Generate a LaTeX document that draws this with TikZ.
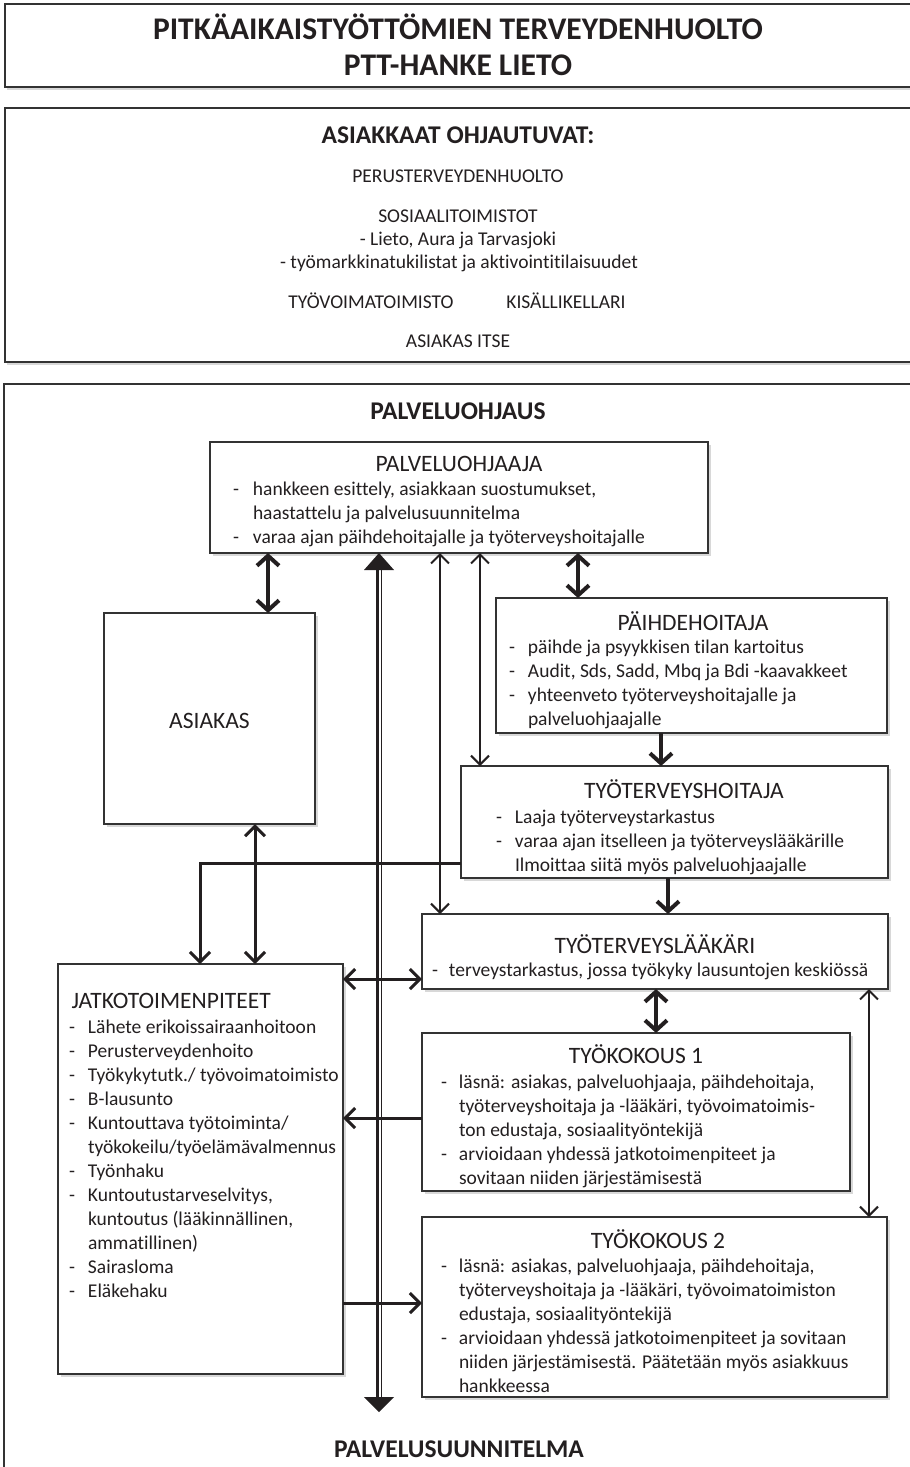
\documentclass[tikz,border=0pt]{standalone}
\usepackage{fontspec}
\setmainfont{Carlito}[Ligatures={CommonOff,ContextualOff}]
\usetikzlibrary{arrows.meta,shadows}
\definecolor{ink}{HTML}{231F20}
\definecolor{edge}{HTML}{333333}
\newcommand\dl[2]{\strut\makebox[#1pt][l]{-}#2}
\newcommand\cl[2]{\strut\hspace*{#1pt}#2}
\begin{document}
\begin{tikzpicture}[x=1pt,y=-1pt,
  every node/.style={text=ink},
  frame/.style={draw=edge, line width=1.5pt, fill=white, inner sep=0pt, outer sep=0pt, anchor=north west,
    drop shadow={shadow xshift=2pt, shadow yshift=-3pt, opacity=0.3}},
  box/.style={draw=edge, line width=1.3pt, fill=white, inner sep=0pt, outer sep=0pt, anchor=north west,
    drop shadow={shadow xshift=2.5pt, shadow yshift=-2.5pt, opacity=0.3}},
  bigtitle/.style={font=\fontsize{31.5}{36}\selectfont\bfseries, anchor=base},
  head/.style={font=\fontsize{25.5}{30}\selectfont\bfseries, anchor=base},
  plain/.style={font=\fontsize{19.5}{24}\selectfont, anchor=base},
  btitle/.style={font=\fontsize{23.5}{28}\selectfont, anchor=base},
  lst/.style={font=\fontsize{19.5}{24}\selectfont, align=left, anchor=north west, inner sep=0pt, outer sep=0pt},
  thk/.style={draw=ink, line width=4pt, >={Straight Barb[length=10pt,width=22pt]}},
  med/.style={draw=ink, line width=3pt, >={Straight Barb[length=10pt,width=20pt]}},
  thn/.style={draw=ink, line width=2pt, >={Straight Barb[length=9pt,width=18pt]}},
]
\useasboundingbox (0,0) rectangle (910,1467);
\fill[white] (0,0) rectangle (910,1467);

% frames
\node[frame, minimum width=907pt, minimum height=83pt] (f1) at (5,4) {};
\node[frame, minimum width=907pt, minimum height=254pt] (f2) at (5,108) {};
\node[frame, minimum width=908pt, minimum height=1100pt] (f3) at (4,384) {};

% header texts
\node[bigtitle] (t1) at (458,39) {PITKÄAIKAISTYÖTTÖMIEN TERVEYDENHUOLTO};
\node[bigtitle] (t2) at (458,75) {PTT-HANKE LIETO};

\node[head] (h1) at (458,143) {ASIAKKAAT OHJAUTUVAT:};
\node[plain] (s1) at (458,182) {PERUSTERVEYDENHUOLTO};
\node[plain] (s2) at (458,222) {SOSIAALITOIMISTOT};
\node[plain] (s3) at (458,245) {- Lieto, Aura ja Tarvasjoki};
\node[plain] (s4) at (459,268) {- työmarkkinatukilistat ja aktivointitilaisuudet};
\node[plain] (s5) at (371,308) {TYÖVOIMATOIMISTO};
\node[plain] (s6) at (566,308) {KISÄLLIKELLARI};
\node[plain] (s7) at (458,347) {ASIAKAS ITSE};

\node[head] (h2) at (458,419) {PALVELUOHJAUS};
\node[head] (h3) at (459,1457) {PALVELUSUUNNITELMA};

% boxes
\node[box, minimum width=498pt, minimum height=111pt] (palv) at (210,442) {};
\node[box, minimum width=211pt, minimum height=211pt] (asiakas) at (104,613) {};
\node[box, minimum width=391pt, minimum height=135pt] (paihde) at (496,598) {};
\node[box, minimum width=427pt, minimum height=112pt] (tth) at (461,766) {};
\node[box, minimum width=466pt, minimum height=75pt] (laak) at (422,914) {};
\node[box, minimum width=285pt, minimum height=410pt] (jatko) at (58,964) {};
\node[box, minimum width=428pt, minimum height=158pt] (tk1) at (422,1033) {};
\node[box, minimum width=465pt, minimum height=180pt] (tk2) at (422,1217) {};

% box texts
\node[btitle] (palvT) at (459,471) {PALVELUOHJAAJA};
\node[lst] (palvL) at (233,478.2) {\dl{20}{hankkeen esittely, asiakkaan suostumukset,}\\
\cl{20}{haastattelu ja palvelusuunnitelma}\\
\dl{20}{varaa ajan päihdehoitajalle ja työterveyshoitajalle}};

\node[btitle] (asiakasT) at (209.5,728) {ASIAKAS};

\node[btitle] (paihdeT) at (693,630) {PÄIHDEHOITAJA};
\node[lst] (paihdeL) at (509,636.2) {\dl{19}{päihde ja psyykkisen tilan kartoitus}\\
\dl{19}{Audit, Sds, Sadd, Mbq ja Bdi -kaavakkeet}\\
\dl{19}{yhteenveto työterveyshoitajalle ja}\\
\cl{19}{palveluohjaajalle}};

\node[btitle] (tthT) at (684,798) {TYÖTERVEYSHOITAJA};
\node[lst] (tthL) at (496,806.2) {\dl{19}{Laaja työterveystarkastus}\\
\dl{19}{varaa ajan itselleen ja työterveyslääkärille}\\
\cl{19}{Ilmoittaa siitä myös palveluohjaajalle}};

\node[btitle] (laakT) at (655,953) {TYÖTERVEYSLÄÄKÄRI};
\node[lst] (laakL) at (432,959.2) {\dl{17}{terveystarkastus, jossa työkyky lausuntojen keskiössä}};

\node[btitle, anchor=base west] (jatkoT) at (68,1008) {JATKOTOIMENPITEET};
\node[lst] (jatkoL) at (69,1016.2) {\dl{19}{Lähete erikoissairaanhoitoon}\\
\dl{19}{Perusterveydenhoito}\\
\dl{19}{Työkykytutk./ työvoimatoimisto}\\
\dl{19}{B-lausunto}\\
\dl{19}{Kuntouttava työtoiminta/}\\
\cl{19}{työkokeilu/työelämävalmennus}\\
\dl{19}{Työnhaku}\\
\dl{19}{Kuntoutustarveselvitys,}\\
\cl{19}{kuntoutus (lääkinnällinen,}\\
\cl{19}{ammatillinen)}\\
\dl{19}{Sairasloma}\\
\dl{19}{Eläkehaku}};

\node[btitle] (tk1T) at (636,1063) {TYÖKOKOUS 1};
\node[lst] (tk1L) at (441,1071.2) {\dl{18}{läsnä: asiakas, palveluohjaaja, päihdehoitaja,}\\
\cl{18}{työterveyshoitaja ja -lääkäri, työvoimatoimis-}\\
\cl{18}{ton edustaja, sosiaalityöntekijä}\\
\dl{18}{arvioidaan yhdessä jatkotoimenpiteet ja}\\
\cl{18}{sovitaan niiden järjestämisestä}};

\node[btitle] (tk2T) at (658,1248) {TYÖKOKOUS 2};
\node[lst] (tk2L) at (441,1255.2) {\dl{18}{läsnä: asiakas, palveluohjaaja, päihdehoitaja,}\\
\cl{18}{työterveyshoitaja ja -lääkäri, työvoimatoimiston}\\
\cl{18}{edustaja, sosiaalityöntekijä}\\
\dl{18}{arvioidaan yhdessä jatkotoimenpiteet ja sovitaan}\\
\cl{18}{niiden järjestämisestä. Päätetään myös asiakkuus}\\
\cl{18}{hankkeessa}};

% big double-line arrow
\coordinate (bigtop) at (palv.south -| 379,0);
\coordinate (bigbot) at (379,1412);
\draw[ink, line width=3pt] ([xshift=-2pt, yshift=-16pt]bigtop) -- ([xshift=-2pt, yshift=15pt]bigbot);
\draw[ink, line width=1.2pt] ([xshift=2.5pt, yshift=-16pt]bigtop) -- ([xshift=2.5pt, yshift=15pt]bigbot);
\fill[ink] (bigtop) -- ++(-15,17) -- ++(30,0) -- cycle;
\fill[ink] (bigbot) -- ++(-15,-15) -- ++(30,0) -- cycle;

% connectors
\draw[thk, <->] (palv.south -| 268,0) -- (asiakas.north -| 268,0);
\draw[thk, <->] (palv.south -| 578,0) -- (paihde.north -| 578,0);
\draw[thn, <->] (palv.south -| 440,0) -- (laak.north -| 440,0);
\draw[thn, <->] (palv.south -| 480,0) -- (tth.north -| 480,0);
\draw[thk, ->] (paihde.south -| 661,0) -- (tth.north -| 661,0);
\draw[thk, ->] (tth.south -| 668,0) -- (laak.north -| 668,0);
\draw[thk, <->] (laak.south -| 656,0) -- (tk1.north -| 656,0);
\draw[thn, <->] (laak.south -| 869,0) -- (tk2.north -| 869,0);
\draw[med, ->] (tth.west |- 0,863) -| (jatko.north -| 200,0);
\draw[med, <->] (asiakas.south -| 255,0) -- (jatko.north -| 255,0);
\draw[med, <->] (jatko.east |- 0,979) -- (laak.west |- 0,979);
\draw[med, ->] (tk1.west |- 0,1118) -- (jatko.east |- 0,1118);
\draw[med, ->] (jatko.east |- 0,1303) -- (tk2.west |- 0,1303);
\end{tikzpicture}
\end{document}
